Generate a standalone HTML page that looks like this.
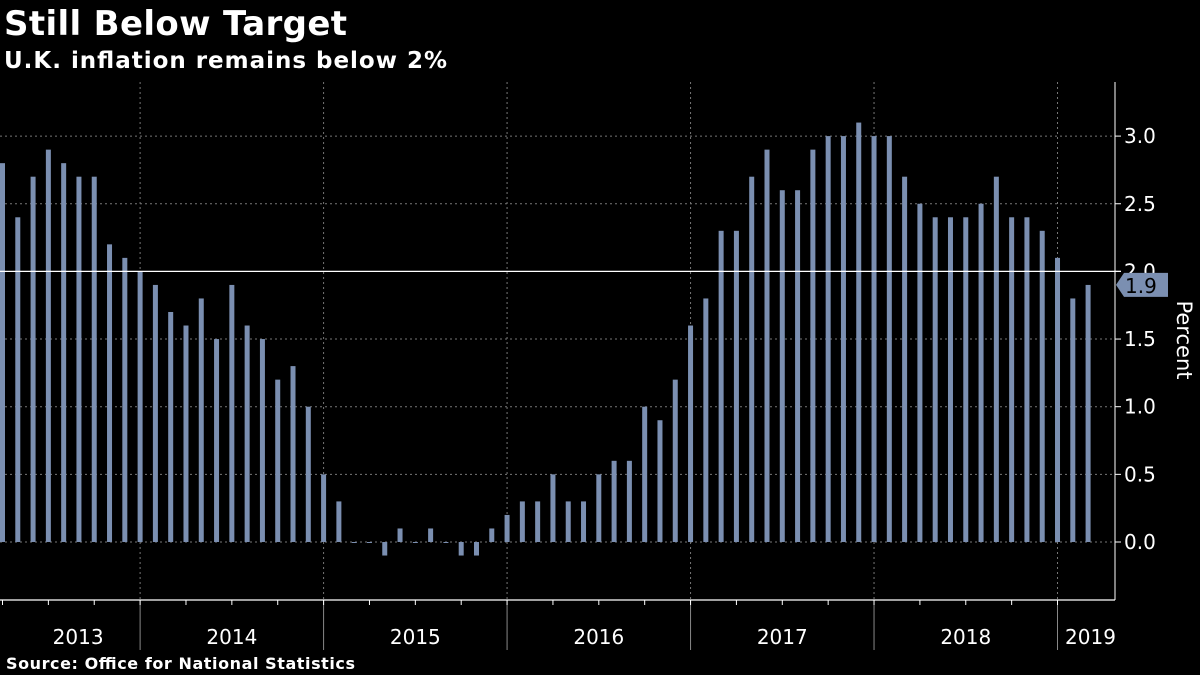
<!DOCTYPE html>
<html><head><meta charset="utf-8"><style>
body{margin:0;background:#000;width:1200px;height:675px;overflow:hidden;font-family:"Liberation Sans","DejaVu Sans",sans-serif}
svg{display:block}
</style></head><body>
<svg id="c" width="1200" height="675">
<text x="4" y="35" fill="#fff" font-size="34" font-weight="bold" font-family="DejaVu Sans, sans-serif" textLength="343">Still Below Target</text>
<text x="4" y="68" fill="#fff" font-size="23" font-weight="bold" font-family="DejaVu Sans, sans-serif" textLength="443">U.K. inflation remains below 2%</text>
<text x="6" y="669" fill="#fff" font-size="16" font-weight="bold" font-family="DejaVu Sans, sans-serif" textLength="349">Source: Office for National Statistics</text>
<text transform="translate(1177,340) rotate(90)" text-anchor="middle" fill="#fff" font-size="21" font-family="DejaVu Sans, sans-serif">Percent</text>
</svg>
<script>
const values=[2.8,2.4,2.7,2.9,2.8,2.7,2.7,2.2,2.1,2.0,
1.9,1.7,1.6,1.8,1.5,1.9,1.6,1.5,1.2,1.3,1.0,0.5,
0.3,0.0,0.0,-0.1,0.1,0.0,0.1,0.0,-0.1,-0.1,0.1,0.2,
0.3,0.3,0.5,0.3,0.3,0.5,0.6,0.6,1.0,0.9,1.2,1.6,
1.8,2.3,2.3,2.7,2.9,2.6,2.6,2.9,3.0,3.0,3.1,3.0,
3.0,2.7,2.5,2.4,2.4,2.4,2.5,2.7,2.4,2.4,2.3,2.1,
1.8,1.9];
const yTicks=[0.0,0.5,1.0,1.5,2.0,2.5,3.0];
const years=["2013","2014","2015","2016","2017","2018","2019"];
const target=2.0;
const startMonth=2; // March 2013
const NS="http://www.w3.org/2000/svg";
const svg=document.getElementById('c');
const x=i=>2.5+i*15.29;
const y=v=>542-v*135.3;
function mk(t,a){const e=document.createElementNS(NS,t);for(const k in a)e.setAttribute(k,a[k]);svg.appendChild(e);return e;}
yTicks.forEach(v=>{
 if(v!==target){const g=mk('line',{x1:0,x2:1115,y1:y(v),y2:y(v),stroke:'#777','stroke-dasharray':'2,3','stroke-width':1});
 
 }
 const t=mk('line',{x1:1115,x2:1121,y1:y(v),y2:y(v),stroke:'#fff'});
 
 
 const l=mk('text',{x:1124,y:y(v)+7,fill:'#fff','font-size':20,'font-family':'DejaVu Sans, sans-serif'});
 l.textContent=v.toFixed(1);
 
 
});
const decIdx=[];
for(let i=0;i<values.length;i++) if((startMonth+i)%12===11) decIdx.push(i);
decIdx.forEach(i=>{
 const g=mk('line',{x1:x(i),x2:x(i),y1:82,y2:600,stroke:'#777','stroke-dasharray':'2,3'});
 
 
 const s=mk('line',{x1:x(i),x2:x(i),y1:600,y2:650,stroke:'#888'});
 
 
});
values.forEach((v,i)=>{
 const b=mk('rect',{x:x(i)-2.5,width:5,y:Math.min(y(v),y(0)),height:Math.max(Math.abs(y(v)-y(0)),1),fill:'#7b8fb1'});
 
 
});
const tl=mk('line',{x1:0,x2:1121,y1:y(target),y2:y(target),stroke:'#fff','stroke-width':1.3});


const ra=mk('line',{x1:1115,x2:1115,y1:82,y2:600,stroke:'#fff'});


const xa=mk('line',{x1:0,x2:1115,y1:600,y2:600,stroke:'#fff','stroke-width':1.3});


for(let i=0;i<values.length;i+=3){
 const t=mk('line',{x1:x(i),x2:x(i),y1:600,y2:605,stroke:'#fff'});
 
 
}
const edges=[x(decIdx[0])-124].concat(decIdx.map(x)).concat([x(decIdx[decIdx.length-1])+66]);
years.forEach((yr,k)=>{
 const cx=(edges[k]+edges[k+1])/2;
 const l=mk('text',{x:cx,y:644,fill:'#fff','font-size':20,'text-anchor':'middle','font-family':'DejaVu Sans, sans-serif'});
 l.textContent=yr;
 
 
});
const lv=values[values.length-1];
const tag=mk('path',{d:`M1116 ${y(lv)} L1124 ${y(lv)-12} L1168 ${y(lv)-12} L1168 ${y(lv)+12} L1124 ${y(lv)+12} Z`,fill:'#7b8fb1'});


const tt=mk('text',{x:1125,y:y(lv)+8,fill:'#000','font-size':20,'font-family':'DejaVu Sans, sans-serif'});
tt.textContent=lv.toFixed(1);


</script>
</body></html>
